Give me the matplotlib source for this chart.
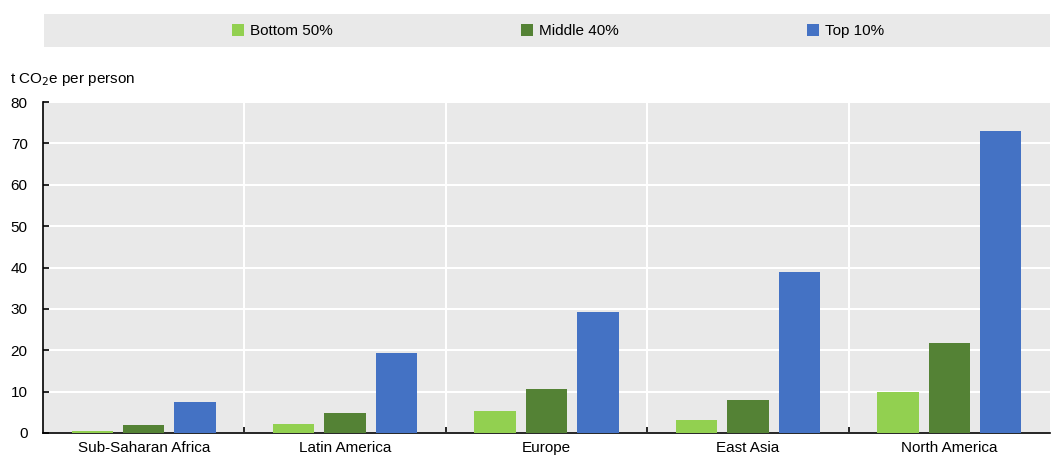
import numpy as np
import matplotlib.pyplot as plt
from matplotlib.patches import Rectangle

plt.rcParams['font.family'] = ['Liberation Sans', 'DejaVu Sans']
plt.rcParams['font.size'] = 11

regions = ['Sub-Saharan Africa', 'Latin America', 'Europe', 'East Asia', 'North America']
bottom50 = [0.5, 2.1, 5.3, 3.1, 9.9]
middle40 = [1.9, 4.8, 10.6, 8.0, 21.8]
top10 = [7.4, 19.3, 29.2, 38.9, 73.0]
series = ['Bottom 50%', 'Middle 40%', 'Top 10%']
colors = ['#92D050', '#548235', '#4472C4']
bg = '#E9E9E9'

fig = plt.figure(figsize=(10.51, 4.57), dpi=100)
ax = fig.add_axes([43 / 1051, (457 - 433) / 457, (1050 - 43) / 1051, (433 - 102) / 457])
ax.set_facecolor(bg)

x = np.arange(len(regions))
w = 0.205
off = 0.255
for i, vals in enumerate([bottom50, middle40, top10]):
    ax.bar(x + (i - 1) * off, vals, width=w, color=colors[i], label=series[i], zorder=3)

ax.set_xlim(-0.5, len(regions) - 0.5)
ax.set_ylim(0, 80)
ax.set_yticks(range(0, 81, 10))
ax.set_xticks(x)
ax.set_xticklabels(regions)
ax.set_xticks(np.arange(0.5, len(regions) - 0.5, 1), minor=True)
ax.tick_params(axis='x', which='major', length=0, pad=6)
ax.tick_params(axis='x', which='minor', length=4, direction='in', width=1.2)
ax.tick_params(axis='y', length=4, direction='in', pad=11, width=1.2)
ax.grid(axis='y', color='white', linewidth=1.5, zorder=1)
ax.grid(axis='x', which='minor', color='white', linewidth=1.5, zorder=1)
for s in ['top', 'right']:
    ax.spines[s].set_visible(False)
ax.spines['left'].set_linewidth(1.2)
ax.spines['bottom'].set_linewidth(1.2)

fig.text(10 / 1051, 1 - 80 / 457, 't CO$_2$e per person', fontsize=11, va='center', ha='left')

# legend band
fig.patches.append(Rectangle((44 / 1051, 1 - 47 / 457), (1050 - 44) / 1051, 33 / 457,
                             transform=fig.transFigure, facecolor=bg, edgecolor='none'))
handles, labels = ax.get_legend_handles_labels()
fig.legend(handles, labels, loc='center', bbox_to_anchor=(558 / 1051, 1 - 31 / 457), ncol=3,
           frameon=False, handlelength=0.8, handleheight=0.8, handletextpad=0.4,
           columnspacing=12.3, fontsize=11)

fig.savefig('out.png', dpi=100)
